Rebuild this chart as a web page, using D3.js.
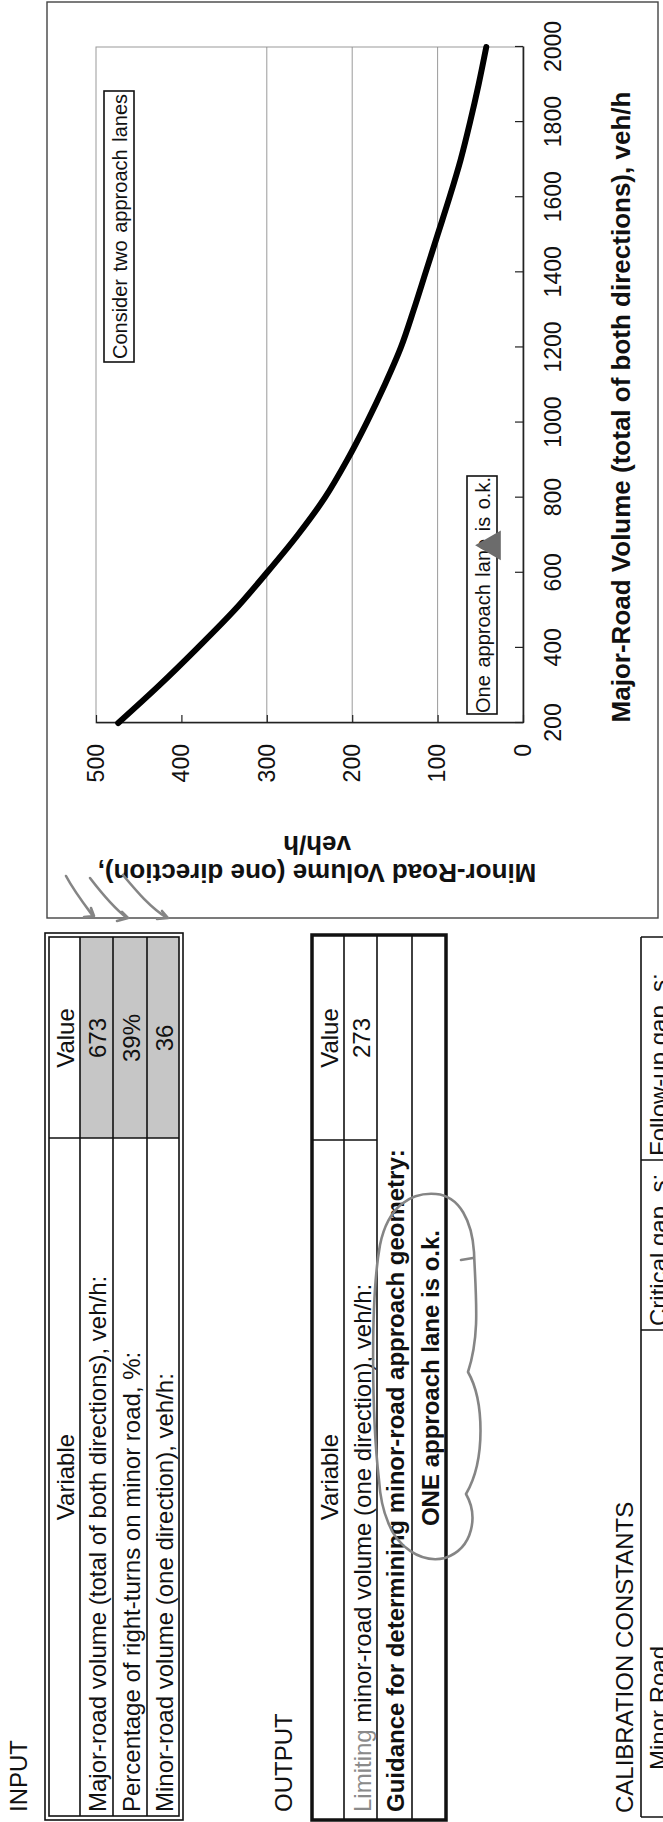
<!DOCTYPE html>
<html>
<head>
<meta charset="utf-8">
<script src="https://cdn.jsdelivr.net/npm/d3@7"></script>
<style>
  body { margin: 0; background: #fff; }
  svg { display: block; }
  text { font-family: "Liberation Sans", Arial, sans-serif; fill: #111; }
</style>
</head>
<body>
<script>
// ---- data ----
const majorVolume = [200, 300, 400, 500, 600, 700, 800, 900, 1000, 1100, 1200, 1300, 1400, 1500, 1600, 1700, 1800, 1900, 2000];
const limitingMinor = [474, 426, 381, 338, 300, 264, 232, 206, 183, 162, 143, 128, 114, 100, 86, 73, 62, 52, 43];
const currentPoint = [673, 36];   // major, minor from the input table

const majorTicks = [200, 400, 600, 800, 1000, 1200, 1400, 1600, 1800, 2000];
const minorTicks = [0, 100, 200, 300, 400, 500];
const minorGrid = [100, 200, 300];

const inputVariables = [
  "Major-road volume (total of both directions), veh/h:",
  "Percentage of right-turns on minor road, %:",
  "Minor-road volume (one direction), veh/h:"
];
const inputValues = ["673", "39%", "36"];

const outputVariables = ["Limiting minor-road volume (one direction), veh/h:"];
const outputValues = ["273"];
const guidanceLabel = "Guidance for determining minor-road approach geometry:";
const guidanceResult = "ONE approach lane is o.k.";

const calibHeaders = ["Minor Road", "Critical gap, s:", "Follow-up gap, s:"];

// ---- page setup: the sheet was scanned sideways, so lay it out landscape and turn it ----
const W = 663, H = 1822;
const svg = d3.select("body").append("svg").attr("width", W).attr("height", H);
const page = svg.append("g").attr("transform", `translate(0,${H}) rotate(-90)`);

// ================= chart =================
const x = d3.scaleLinear().domain([200, 2000]).range([1099, 1775]);
const y = d3.scaleLinear().domain([0, 500]).range([523, 96]);

page.append("rect")
  .attr("x", 904).attr("y", 47).attr("width", 916).attr("height", 611)
  .attr("fill", "none").attr("stroke", "#444").attr("stroke-width", 1.4);

page.append("rect")
  .attr("x", x(200)).attr("y", y(500)).attr("width", x(2000) - x(200)).attr("height", y(0) - y(500))
  .attr("fill", "none").attr("stroke", "#999").attr("stroke-width", 1);

page.selectAll("line.grid").data(minorGrid).join("line")
  .attr("class", "grid")
  .attr("x1", x(200)).attr("x2", x(2000))
  .attr("y1", d => y(d)).attr("y2", d => y(d))
  .attr("stroke", "#8f8f8f").attr("stroke-width", 0.9);

const yAxis = page.append("g")
  .attr("transform", `translate(${x(200)},0)`)
  .call(d3.axisLeft(y).tickValues(minorTicks).tickFormat(d3.format("d"))
    .tickSizeInner(-8).tickSizeOuter(0).tickPadding(21));

const xAxis = page.append("g")
  .attr("transform", `translate(0,${y(0)})`)
  .call(d3.axisBottom(x).tickValues(majorTicks).tickFormat(d3.format("d"))
    .tickSizeInner(-8).tickSizeOuter(0).tickPadding(22));

[yAxis, xAxis].forEach(a => {
  a.select(".domain").attr("stroke", "#222").attr("stroke-width", 1.6);
  a.selectAll(".tick line").attr("stroke", "#222").attr("stroke-width", 1.2);
  a.selectAll(".tick text").attr("font-size", 23).attr("fill", "#111")
    .style("font-family", '"Liberation Sans", Arial, sans-serif');
});

// axis titles
page.append("text")
  .attr("x", 1415).attr("y", 621).attr("text-anchor", "middle").attr("dominant-baseline", "central")
  .attr("font-size", 26).attr("font-weight", "bold")
  .text("Major-Road Volume (total of both directions), veh/h");

// y title is turned a quarter back inside the page frame
const yTitle = page.append("text")
  .attr("transform", "rotate(-90)")
  .attr("text-anchor", "middle").attr("font-size", 26).attr("font-weight", "bold");
yTitle.append("tspan").attr("x", -317).attr("y", 958).text("Minor-Road Volume (one direction),");
yTitle.append("tspan").attr("x", -317).attr("y", 986).text("veh/h");

// limiting-volume curve
const line = d3.line()
  .x((d, i) => x(majorVolume[i]))
  .y(d => y(d))
  .curve(d3.curveMonotoneX);

page.append("path")
  .datum(limitingMinor)
  .attr("d", line)
  .attr("fill", "none").attr("stroke", "#000").attr("stroke-width", 6)
  .attr("stroke-linecap", "round");

// region labels
function boxLabel(u0, u1, v0, v1, label) {
  page.append("rect")
    .attr("x", u0).attr("y", v0).attr("width", u1 - u0).attr("height", v1 - v0)
    .attr("fill", "#fff").attr("stroke", "#111").attr("stroke-width", 1.6);
  page.append("text")
    .attr("x", (u0 + u1) / 2).attr("y", (v0 + v1) / 2 + 1)
    .attr("text-anchor", "middle").attr("dominant-baseline", "central")
    .attr("font-size", 20).attr("word-spacing", 2).text(label);
}
boxLabel(1460, 1731, 104, 134, "Consider two approach lanes");
boxLabel(1108, 1346, 467, 497, "One approach lane is o.k.");

// current point marker
page.append("path")
  .attr("transform", `translate(${x(currentPoint[0])},${y(currentPoint[1])})`)
  .attr("d", d3.symbol(d3.symbolTriangle, 380)())
  .attr("fill", "#6c6c6c");

// ================= tables =================
const tableStroke = "#111";

function hline(u0, u1, v, w) {
  page.append("line").attr("x1", u0).attr("x2", u1).attr("y1", v).attr("y2", v)
    .attr("stroke", tableStroke).attr("stroke-width", w);
}
function vline(u, v0, v1, w) {
  page.append("line").attr("x1", u).attr("x2", u).attr("y1", v0).attr("y2", v1)
    .attr("stroke", tableStroke).attr("stroke-width", w);
}
function cellText(u, v, str, opts = {}) {
  return page.append("text")
    .attr("x", u).attr("y", v).attr("dominant-baseline", "central")
    .attr("text-anchor", opts.anchor || "start")
    .attr("font-size", opts.size || 24)
    .attr("font-weight", opts.bold ? "bold" : "normal")
    .text(str);
}

// INPUT
cellText(10, 18, "INPUT");
const inRows = [49, 80, 113, 147, 179];
page.append("rect").attr("x", 684).attr("y", inRows[1]).attr("width", 201).attr("height", inRows[4] - inRows[1])
  .attr("fill", "#c6c6c6");
page.append("rect").attr("x", 2).attr("y", 45).attr("width", 887).attr("height", 138)
  .attr("fill", "none").attr("stroke", tableStroke).attr("stroke-width", 1.6);
page.append("rect").attr("x", 6).attr("y", 49).attr("width", 879).attr("height", 130)
  .attr("fill", "none").attr("stroke", tableStroke).attr("stroke-width", 1.6);
inRows.slice(1, 4).forEach(v => hline(6, 885, v, 1.6));
vline(684, 49, 179, 1.6);
cellText(345, (inRows[0] + inRows[1]) / 2 + 1, "Variable", { anchor: "middle" });
cellText(784, (inRows[0] + inRows[1]) / 2 + 1, "Value", { anchor: "middle" });
inputVariables.forEach((s, i) => cellText(10, (inRows[i + 1] + inRows[i + 2]) / 2 + 1, s));
inputValues.forEach((s, i) => cellText(784, (inRows[i + 1] + inRows[i + 2]) / 2 + 1, s, { anchor: "middle" }));

// OUTPUT
cellText(10, 283, "OUTPUT");
const outRows = [312, 344, 377, 412, 446];
page.append("rect").attr("x", 2).attr("y", outRows[0]).attr("width", 885).attr("height", outRows[4] - outRows[0])
  .attr("fill", "none").attr("stroke", tableStroke).attr("stroke-width", 3.5);
outRows.slice(1, 4).forEach(v => hline(2, 887, v, 1.6));
vline(682, outRows[0], outRows[2], 1.6);
cellText(345, (outRows[0] + outRows[1]) / 2 + 1, "Variable", { anchor: "middle" });
cellText(784, (outRows[0] + outRows[1]) / 2 + 1, "Value", { anchor: "middle" });
const lim = cellText(10, (outRows[1] + outRows[2]) / 2 + 1, "");
lim.append("tspan").attr("fill", "#8a8a8a").text(outputVariables[0].slice(0, 8));
lim.append("tspan").text(outputVariables[0].slice(8));
cellText(784, (outRows[1] + outRows[2]) / 2 + 1, outputValues[0], { anchor: "middle" });
cellText(10, (outRows[2] + outRows[3]) / 2 + 1, guidanceLabel, { bold: true });
cellText(444, (outRows[3] + outRows[4]) / 2 + 1, guidanceResult, { anchor: "middle", bold: true });

// CALIBRATION CONSTANTS (the sheet is cut off just below the header row)
cellText(9, 624, "CALIBRATION CONSTANTS");
hline(5, 885, 641, 1.6);
vline(5, 641, 700, 1.6);
[492, 662, 885].forEach(u => vline(u, 641, 700, 1.6));
cellText(52, 658, calibHeaders[0]);
cellText(496, 658, calibHeaders[1]);
cellText(666, 658, calibHeaders[2]);

// ================= pen marks on the printout (image coordinates) =================
const pen = svg.append("g").attr("fill", "none").attr("stroke", "#858585")
  .attr("stroke-width", 2.6).attr("stroke-linecap", "round").attr("stroke-linejoin", "round");
const penStrokes = [
  "M66,876 C74,891 84,904 93,916 M84,917 L94,916 L91,908",
  "M90,878 C103,895 114,908 127,918 M117,921 L128,918 L122,912",
  "M123,875 C138,893 150,907 167,918 M157,919 L168,918 L162,911",
  "M379,1480 C372,1420 370,1300 380,1245 C388,1205 412,1192 436,1194 C460,1196 472,1222 474,1252 " +
    "C476,1300 480,1335 468,1372 C484,1400 486,1460 466,1494 C478,1515 474,1548 445,1558 " +
    "C420,1564 396,1545 388,1522 C382,1508 380,1495 379,1480",
  "M461,1260 L473,1258"
];
pen.selectAll("path").data(penStrokes).join("path").attr("d", d => d);
</script>
</body>
</html>
